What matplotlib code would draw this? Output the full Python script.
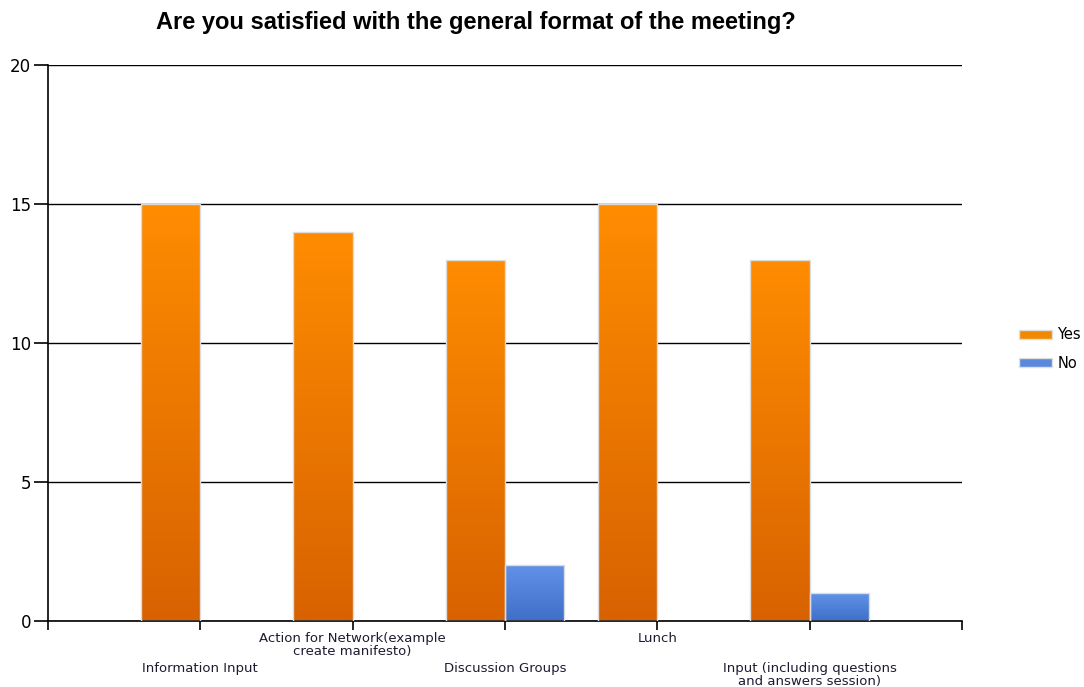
#============================================================
# PLOT.PY  -- meeting format satisfaction bar chart
#============================================================

import numpy as np
import matplotlib
matplotlib.use("Agg")
import matplotlib.pyplot as plt
from matplotlib.patches import Patch
from matplotlib.colors import LinearSegmentedColormap

#------------------------------------------------------------
categories = ["Information Input",
              "Action for Network(example\ncreate manifesto)",
              "Discussion Groups",
              "Lunch",
              "Input (including questions\nand answers session)"]
yes_vals = [15, 14, 13, 15, 13]
no_vals  = [0, 0, 2, 0, 1]
series_names = ["Yes", "No"]

title = "Are you satisfied with the general format of the meeting?"

#------------------------------------------------------------
W, H = 1084, 687
fig = plt.figure(figsize=(W/100, H/100), dpi=100)
ax = fig.add_axes([48/W, 1-621/H, (962-48)/W, (621-65)/H])

orange_cm = LinearSegmentedColormap.from_list("og", ["#d86200", "#ff8c00"])
blue_cm   = LinearSegmentedColormap.from_list("bl", ["#3f6fc8", "#6192e8"])

x = np.arange(1, len(categories)+1)
bw = 0.39

def grad_bars(xs, vals, width, cmap):
    bars = ax.bar(xs, vals, width=width, align="edge", color="none",
                  edgecolor="#dcdcdc", linewidth=1.0, zorder=3)
    grad = np.linspace(0, 1, 256).reshape(-1, 1)
    for b in bars:
        h = b.get_height()
        if h <= 0:
            b.set_visible(False)
            continue
        x0 = b.get_x()
        x1 = x0 + b.get_width()
        im = ax.imshow(grad, cmap=cmap, origin="lower", aspect="auto",
                       extent=[min(x0, x1), max(x0, x1), 0, h], zorder=2)
        im.set_clip_path(b)
    return bars

# orange bars sit left of the tick, blue right
grad_bars(x, yes_vals, -bw, orange_cm)
grad_bars(x, no_vals, bw, blue_cm)

ax.set_xlim(0, 6)
ax.set_ylim(0, 20)
ax.set_yticks([0, 5, 10, 15, 20])
ax.yaxis.grid(True, color="black", linewidth=1.0, zorder=1)
ax.set_axisbelow(True)

for s in ["top", "right"]:
    ax.spines[s].set_visible(False)
ax.spines["left"].set_linewidth(1.2)
ax.spines["bottom"].set_linewidth(1.2)

ax.set_xticks(list(range(0, 7)))
ax.set_xticklabels([""] + categories + [""], fontsize=9.5, color="#1c1c30",
                   family="DejaVu Sans")
ax.tick_params(axis="x", length=6.5, width=1.2)
ax.tick_params(axis="y", length=10, width=1.2, labelsize=12, pad=2)
for i, t in enumerate(ax.xaxis.get_major_ticks()):
    # stagger labels: 1st, 3rd, 5th on the lower row
    if i in (1, 3, 5):
        t.set_pad(23)
    else:
        t.set_pad(1.5)
    t.label1.set_linespacing(1.0)

fig.text(476/W, 1-22/H, title, ha="center", va="center",
         fontsize=17, fontweight="bold", family="Liberation Sans")

handles = [Patch(facecolor="#f08800", edgecolor="#e0e0e0"),
           Patch(facecolor="#5b88dd", edgecolor="#e0e0e0")]
fig.legend(handles, series_names, loc="center left",
           bbox_to_anchor=(1010/W, 1-349/H), frameon=False,
           fontsize=10.5, handlelength=2.3, handleheight=0.55,
           labelspacing=0.9, handletextpad=0.35, borderaxespad=0.2)

fig.savefig("out.png", dpi=100)

#------------------------------------------------------------
#        END OF FILE : PLOT.PY
#============================================================
